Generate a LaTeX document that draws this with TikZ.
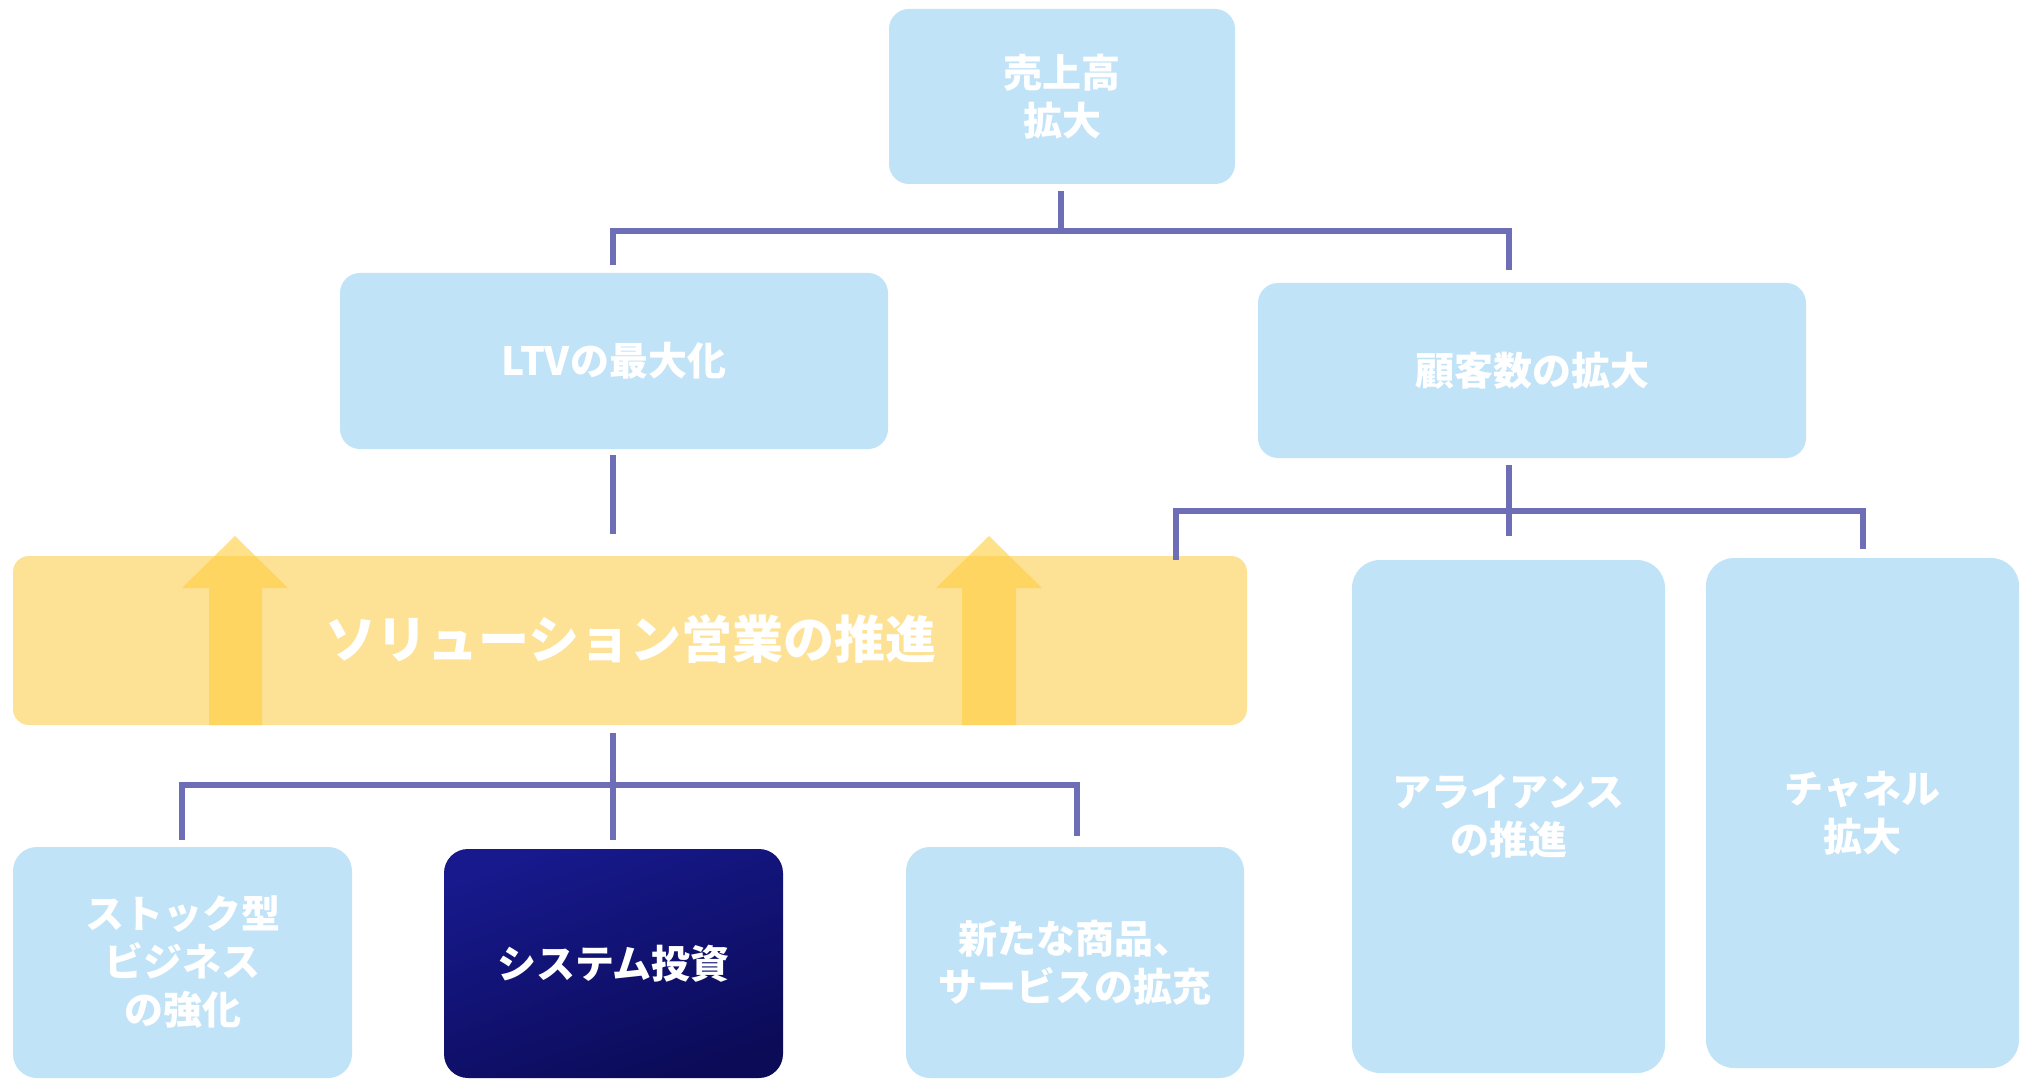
\documentclass[tikz,border=0pt]{standalone}
\usepackage{fontspec}
\newfontfamily\jp{Noto Sans CJK JP}
\usetikzlibrary{calc}
\definecolor{boxblue}{RGB}{192,227,247}
\definecolor{bandyel}{RGB}{253,226,150}
\definecolor{arrowyel}{RGB}{255,205,60}
\definecolor{connnavy}{RGB}{110,110,182}
\definecolor{navyA}{RGB}{23,25,140}
\definecolor{navyB}{RGB}{11,11,88}
\begin{document}
\begin{tikzpicture}[x=0.5pt,y=-0.5pt,
  txt/.style={text=white, align=center, font=\jp\bfseries\fontsize{19.5}{24}\selectfont},
  bluebox/.style={txt, rectangle, rounded corners=10pt, fill=boxblue, draw=none, inner sep=0pt},
  navybox/.style={txt, rectangle, rounded corners=12pt, top color=navyA, bottom color=navyB, shading angle=20, draw=none, inner sep=0pt},
  conn/.style={draw=connnavy, line width=3pt, line join=miter},
  uparrow/.style={fill=arrowyel, fill opacity=0.6, draw=none}]
\useasboundingbox (0,0) rectangle (2027,1080);
\fill[white] (0,0) rectangle (2027,1080);

% boxes
\node[bluebox, minimum width=173pt, minimum height=87.5pt] (top) at (1062,96.5) {売上高\\拡大};
\node[bluebox, minimum width=274pt, minimum height=88pt] (ltv) at (614,361) {LTVの最大化};
\node[bluebox, minimum width=274pt, minimum height=87.5pt] (cust) at (1532,370.5) {顧客数の拡大};

\node[rectangle, rounded corners=8pt, fill=bandyel, draw=none, inner sep=0pt,
      minimum width=617pt, minimum height=84.5pt] (band) at (630,640.5) {};
\fill[uparrow] (209,725) -- (209,588) -- (182,588) -- (235,536) -- (288,588) -- (262,588) -- (262,725) -- cycle;
\fill[uparrow] (962,725) -- (962,588) -- (936,588) -- (989,536) -- (1042,588) -- (1016,588) -- (1016,725) -- cycle;
\node[txt, font=\jp\bfseries\fontsize{25.5}{30}\selectfont] (bandlabel) at (631,639) {ソリューション営業の推進};

\node[bluebox, rounded corners=12pt, minimum width=169.5pt, minimum height=115.5pt] (stock) at (182.5,962.5) {ストック型\\ビジネス\\の強化};
\node[navybox, minimum width=169.5pt, minimum height=114.5pt] (sys) at (613.5,963.5) {システム投資};
\node[bluebox, rounded corners=12pt, minimum width=169pt, minimum height=115.5pt] (new) at (1075,962.5) {新たな商品、\\サービスの拡充};

\node[bluebox, rounded corners=14pt, minimum width=156.5pt, minimum height=256.5pt] (alliance) at (1508.5,816.5) {アライアンス\\の推進};
\node[bluebox, rounded corners=14pt, minimum width=156.5pt, minimum height=255pt] (channel) at (1862.5,813) {チャネル\\拡大};

% connectors: top tree
\coordinate (jL) at (613,231);
\coordinate (jR) at (1509,231);
\draw[conn] ($(top.south)+(-1,7)$) -- ($(top.south |- jL)+(-1,0)$);
\draw[conn] ($(ltv.north -| jL)+(0,-8)$) -- (jL) -- (jR) -- ($(cust.north -| jR)+(0,-13)$);

% LTV down to band
\draw[conn] ($(ltv.south -| jL)+(0,6)$) -- ($(band.north -| jL)+(0,-22)$);

% customer tree
\coordinate (kJ) at (1509,511);
\coordinate (kL) at (1176,560);
\coordinate (kR) at ($(channel.north)+(0,-9)$);
\draw[conn] ($(cust.south -| kJ)+(0,7)$) -- ($(alliance.north -| kJ)+(0,-24)$);
\draw[conn] (kL) -- (kL |- kJ) -- (kR |- kJ) -- (kR);

% band tree
\coordinate (mJ) at (613,785);
\draw[conn] ($(band.south -| mJ)+(0,8)$) -- ($(sys.north -| mJ)+(0,-9)$);
\draw[conn] ($(stock.north)+(-1,-7)$) -- ($(stock.north |- mJ)+(-1,0)$) -- ($(new.north |- mJ)+(2,0)$) -- ($(new.north)+(2,-11)$);
\end{tikzpicture}
\end{document}
